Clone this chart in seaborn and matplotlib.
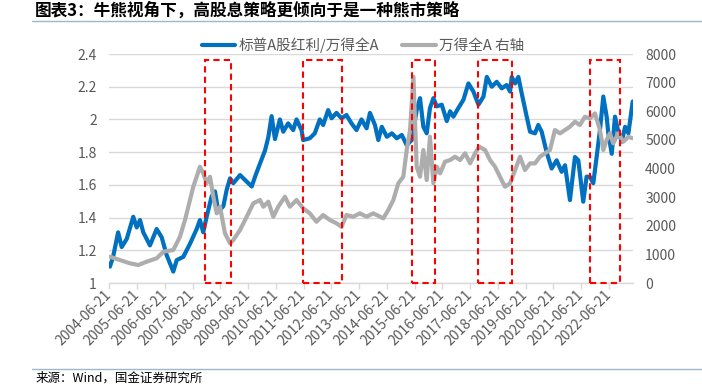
import numpy as np
import pandas as pd
import matplotlib
matplotlib.use("Agg")
import matplotlib.pyplot as plt
import matplotlib.dates as mdates
from matplotlib.patches import Rectangle
from matplotlib.lines import Line2D
from matplotlib.transforms import blended_transform_factory
import seaborn as sns

# ---------------- data ----------------
title = "图表3：牛熊视角下，高股息策略更倾向于是一种熊市策略"
source = "来源：Wind，国金证券研究所"
label_ratio = "标普A股红利/万得全A"
label_index = "万得全A 右轴"

ratio_dates = [
    "2004-06-29", "2004-08-10", "2004-10-15", "2004-12-01", "2005-02-06", "2005-05-02",
    "2005-06-17", "2005-07-30", "2005-09-11", "2005-12-08", "2006-03-06", "2006-05-11",
    "2006-07-16", "2006-10-11", "2006-11-25", "2007-02-20", "2007-05-19", "2007-08-15",
    "2007-09-27", "2007-11-09", "2007-12-24", "2008-02-28", "2008-04-12", "2008-05-26",
    "2008-07-31", "2008-09-13", "2008-10-27", "2008-12-09", "2009-03-07", "2009-06-03",
    "2009-08-08", "2009-09-21", "2009-11-25", "2010-01-30", "2010-03-14", "2010-04-27",
    "2010-06-10", "2010-08-14", "2010-09-27", "2010-12-01", "2011-02-05", "2011-03-21",
    "2011-05-26", "2011-06-16", "2011-09-12", "2011-11-16", "2012-01-21", "2012-03-05",
    "2012-05-10", "2012-06-24", "2012-08-28", "2012-11-02", "2013-01-06", "2013-03-13",
    "2013-05-18", "2013-07-23", "2013-09-28", "2013-11-11", "2014-01-16", "2014-03-01",
    "2014-04-16", "2014-06-21", "2014-08-26", "2014-10-30", "2015-01-04", "2015-03-10",
    "2015-05-15", "2015-07-19", "2015-09-01", "2015-10-15", "2015-11-28", "2016-01-10",
    "2016-02-24", "2016-04-08", "2016-06-13", "2016-08-18", "2016-10-01", "2016-11-13",
    "2017-01-18", "2017-03-25", "2017-05-30", "2017-08-04", "2017-10-09", "2017-12-14",
    "2018-01-27", "2018-04-02", "2018-06-06", "2018-08-11", "2018-10-16", "2018-11-29",
    "2018-12-21", "2019-02-03", "2019-03-18", "2019-05-01", "2019-07-06", "2019-08-19",
    "2019-10-23", "2019-12-05", "2020-01-19", "2020-03-24", "2020-05-29", "2020-08-03",
    "2020-10-08", "2020-11-21", "2021-01-25", "2021-04-01", "2021-05-15", "2021-07-19",
    "2021-09-01", "2021-10-15", "2021-11-28", "2022-01-11", "2022-02-24", "2022-04-09",
    "2022-05-23", "2022-06-14", "2022-07-29", "2022-09-10", "2022-10-24", "2022-12-08",
    "2023-01-21", "2023-03-05", "2023-05-01",
]
ratio_values = [
    1.10, 1.16, 1.31, 1.22, 1.27, 1.405,
    1.34, 1.385, 1.31, 1.23, 1.33, 1.28,
    1.17, 1.07, 1.14, 1.16, 1.24, 1.33,
    1.385, 1.31, 1.405, 1.53, 1.56, 1.435,
    1.47, 1.57, 1.64, 1.61, 1.66, 1.62,
    1.59, 1.65, 1.73, 1.81, 1.89, 2.02,
    1.88, 2.00, 1.925, 1.976, 1.935, 2.00,
    1.935, 1.874, 1.885, 1.915, 2.00, 1.966,
    2.057, 2.007, 2.04, 2.007, 2.027, 1.976,
    1.935, 2.00, 1.946, 2.04, 1.966, 1.874,
    1.955, 1.894, 1.915, 1.885, 1.905, 1.843,
    1.874, 2.057, 2.13, 1.955, 1.915, 2.07,
    2.13, 2.08, 2.09, 1.99, 2.05, 2.017,
    2.07, 2.12, 2.22, 2.17, 2.09, 2.14,
    2.26, 2.20, 2.23, 2.19, 2.21, 2.17,
    2.26, 2.22, 2.26, 2.16, 2.017, 1.925,
    1.915, 1.966, 1.925, 1.80, 1.70, 1.75,
    1.68, 1.72, 1.507, 1.77, 1.75, 1.497,
    1.65, 1.65, 1.61, 1.77, 1.935, 2.14,
    2.017, 1.915, 1.79, 2.017, 1.925, 1.864,
    1.955, 1.915, 2.11,
]

index_dates = [
    "2004-06-29", "2004-11-07", "2005-03-20", "2005-07-07", "2005-10-26", "2006-03-06",
    "2006-06-03", "2006-10-11", "2007-01-07", "2007-03-14", "2007-05-19", "2007-07-01",
    "2007-08-15", "2007-09-27", "2007-11-09", "2007-12-24", "2008-02-06", "2008-03-21",
    "2008-05-04", "2008-06-17", "2008-08-21", "2008-10-27", "2008-12-09", "2009-03-07",
    "2009-06-03", "2009-08-29", "2009-11-25", "2010-01-08", "2010-03-14", "2010-05-19",
    "2010-07-23", "2010-10-19", "2010-12-23", "2011-03-21", "2011-06-16", "2011-09-12",
    "2011-12-08", "2012-03-05", "2012-06-02", "2012-08-28", "2012-11-02", "2013-01-06",
    "2013-04-04", "2013-07-01", "2013-09-28", "2013-12-24", "2014-05-06", "2014-07-10",
    "2014-09-15", "2014-11-19", "2015-01-24", "2015-03-10", "2015-04-23", "2015-06-06",
    "2015-07-19", "2015-09-01", "2015-10-15", "2015-11-28", "2016-01-10", "2016-02-24",
    "2016-04-08", "2016-05-22", "2016-07-26", "2016-10-01", "2016-12-05", "2017-02-09",
    "2017-04-16", "2017-06-21", "2017-08-25", "2017-10-19", "2018-01-04", "2018-03-10",
    "2018-05-15", "2018-07-19", "2018-09-23", "2018-11-29", "2019-02-03", "2019-04-09",
    "2019-06-13", "2019-08-19", "2019-10-23", "2019-12-27", "2020-03-02", "2020-05-07",
    "2020-07-11", "2020-09-15", "2020-11-21", "2021-01-25", "2021-04-01", "2021-06-05",
    "2021-08-10", "2021-10-15", "2021-12-20", "2022-02-24", "2022-04-09", "2022-05-23",
    "2022-07-05", "2022-08-18", "2022-10-24", "2022-12-28", "2023-03-05", "2023-05-01",
]
index_values = [
    919, 803, 687, 629, 745, 862,
    1094, 1153, 1617, 2200, 2900, 3364,
    3713, 4062, 3830, 3480, 3713, 3015,
    2434, 2665, 1736, 1387, 1502, 1851,
    2316, 2784, 2900, 2665, 2840, 2316,
    2665, 3015, 2665, 2900, 2609, 2434,
    2141, 2375, 2200, 2085, 1967, 2375,
    2316, 2434, 2316, 2434, 2260, 2550,
    2900, 3482, 3713, 4646, 5344, 7206,
    4062, 3713, 4646, 3598, 5110, 3482,
    4062, 3830, 4240, 4296, 4412, 4296,
    4530, 4180, 4530, 4761, 4646, 4296,
    4062, 3713, 3364, 3482, 3947, 4412,
    3947, 4180, 4180, 4412, 4530, 4646,
    5344, 5228, 5344, 5460, 5634, 5519,
    5809, 5751, 5925, 5344, 4646, 4995,
    5228, 4878, 5228, 4936, 5110, 5053,
]

bear_starts = ["2007-12-01", "2011-06-17", "2015-05-22", "2017-09-29", "2021-10-15"]
bear_ends = ["2008-11-10", "2012-11-14", "2016-03-17", "2018-12-28", "2022-11-17"]

x_tick_labels = [f"{y}-06-21" for y in range(2004, 2023)]
x_start = "2004-06-21"
x_end = "2023-05-01"
left_ticks = [1.0, 1.2, 1.4, 1.6, 1.8, 2.0, 2.2, 2.4]
left_tick_labels = ["1", "1.2", "1.4", "1.6", "1.8", "2", "2.2", "2.4"]
right_ticks = [0, 1000, 2000, 3000, 4000, 5000, 6000, 7000, 8000]

# ---------------- style ----------------
sns.set_theme(style="white")
plt.rcParams["font.family"] = ["Noto Sans CJK SC", "DejaVu Sans"]

BLUE = "#0070C0"
GREY = "#ADADAD"
TXT = "#595959"
LW = 3.0

df_ratio = pd.DataFrame({"date": pd.to_datetime(ratio_dates), "value": ratio_values})
df_index = pd.DataFrame({"date": pd.to_datetime(index_dates), "value": index_values})

fig = plt.figure(figsize=(7.02, 3.86), dpi=100)
fig.patch.set_facecolor("white")
ax = fig.add_axes([0.1557, 0.2668, 0.7456, 0.5933])
ax2 = ax.twinx()

sns.lineplot(data=df_ratio, x="date", y="value", ax=ax, color=BLUE, lw=LW, legend=False)
sns.lineplot(data=df_index, x="date", y="value", ax=ax2, color=GREY, lw=LW, legend=False)

ax.set_xlim(pd.Timestamp(x_start), pd.Timestamp(x_end))
ax.set_ylim(1.0, 2.4)
ax2.set_ylim(0, 8000)

ax.set_yticks(left_ticks)
ax.set_yticklabels(left_tick_labels)
ax2.set_yticks(right_ticks)
ax2.set_yticklabels([str(v) for v in right_ticks])

ax.set_xticks(pd.to_datetime(x_tick_labels))
ax.set_xticklabels(x_tick_labels, rotation=45, ha="right", va="center",
                   rotation_mode="anchor")

ax.set_xlabel("")
ax.set_ylabel("")
ax2.set_xlabel("")
ax2.set_ylabel("")

ax.yaxis.grid(True, color="#D9D9D9", lw=1.0)
ax.xaxis.grid(False)
ax2.grid(False)
ax.set_axisbelow(True)

for a in (ax, ax2):
    for s in ("top", "left", "right", "bottom"):
        a.spines[s].set_visible(False)
ax.spines["bottom"].set_visible(True)
ax.spines["bottom"].set_color("#D9D9D9")
ax.spines["bottom"].set_linewidth(1.0)

ax.tick_params(axis="x", length=4, width=1, color="#D9D9D9", labelsize=10,
               labelcolor=TXT, pad=3, bottom=True)
ax.tick_params(axis="y", length=0, labelsize=10, labelcolor=TXT, pad=9)
ax2.tick_params(axis="y", length=0, labelsize=10, labelcolor=TXT, pad=9)

# bear-market boxes
trans = blended_transform_factory(ax2.transData, ax2.transAxes)
for s, e in zip(bear_starts, bear_ends):
    x0 = mdates.date2num(pd.Timestamp(s))
    x1 = mdates.date2num(pd.Timestamp(e))
    ax2.add_patch(Rectangle((x0, 0.0), x1 - x0, 0.9725, transform=trans,
                            fill=False, edgecolor="#FF0000", lw=1.5,
                            linestyle=(0, (3, 2)), clip_on=False, zorder=5))

# legend
handles = [Line2D([], [], color=BLUE, lw=LW), Line2D([], [], color=GREY, lw=LW)]
fig.legend(handles, [label_ratio, label_index], loc="center",
           bbox_to_anchor=(0.517, 0.884), ncol=2, frameon=False,
           fontsize=10.5, labelcolor=TXT, handlelength=2.3, handletextpad=0.2,
           columnspacing=1.6)

# title, separators, source
fig.text(0.05, 0.972, title, fontsize=12, fontweight="bold", color="black",
         ha="left", va="center", style="italic")
fig.add_artist(Line2D([0.046, 1.0], [1 - 21 / 386, 1 - 21 / 386],
                      transform=fig.transFigure, color="#A3B6C9", lw=1.0))
fig.add_artist(Line2D([0.046, 1.0], [1 - 369 / 386, 1 - 369 / 386],
                      transform=fig.transFigure, color="#A3B6C9", lw=1.0))
fig.text(0.05, 1 - 372 / 386, source, fontsize=9, color="black",
         ha="left", va="top")

fig.savefig("out.png", dpi=100, facecolor="white")
